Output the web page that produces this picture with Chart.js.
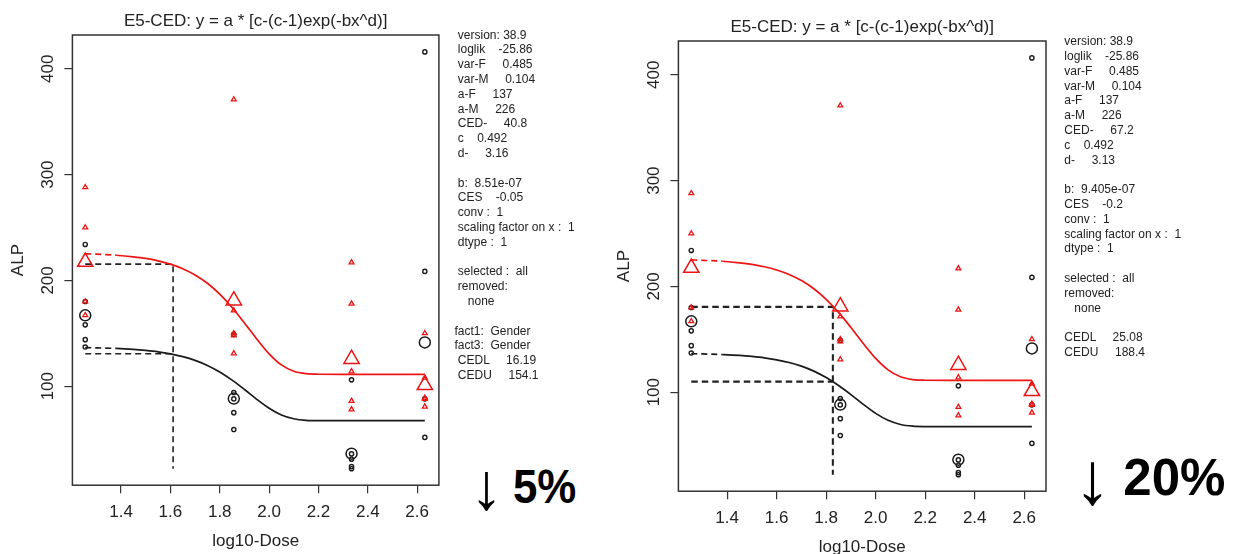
<!DOCTYPE html>
<html>
<head>
<meta charset="utf-8">
<script src="https://cdn.jsdelivr.net/npm/chart.js@4.4.1/dist/chart.umd.min.js"></script>
<style>
html, body { margin: 0; padding: 0; width: 1234px; height: 554px; overflow: hidden; background: #fff; }
.plot { position: absolute; width: 460px; height: 554px; }
.info { position: absolute; font: 12px "Liberation Sans", Arial, sans-serif; line-height: 14.8px; color: #222; white-space: pre; }
.drop { position: absolute; color: #000; font-family: "Liberation Sans", Arial, sans-serif; white-space: nowrap; line-height: 1; }
</style>
</head>
<body>
<div class="plot" style="left:0;top:0"><canvas id="chart5"></canvas></div>
<div class="plot" style="left:606px;top:6.3px"><canvas id="chart20"></canvas></div>

<div class="info" style="left:454.5px;top:27.6px"> version: 38.9
 loglik    -25.86
 var-F     0.485
 var-M     0.104
 a-F     137
 a-M     226
 CED-     40.8
 c    0.492
 d-     3.16

 b:  8.51e-07
 CES    -0.05
 conv :  1
 scaling factor on x :  1
 dtype :  1

 selected :  all
 removed:
    none

fact1:  Gender
fact3:  Gender
 CEDL     16.19
 CEDU     154.1</div>

<div class="info" style="left:1061px;top:34.3px"> version: 38.9
 loglik    -25.86
 var-F     0.485
 var-M     0.104
 a-F     137
 a-M     226
 CED-     67.2
 c    0.492
 d-     3.13

 b:  9.405e-07
 CES    -0.2
 conv :  1
 scaling factor on x :  1
 dtype :  1

 selected :  all
 removed:
    none

 CEDL     25.08
 CEDU     188.4</div>

<div class="drop" style="left:470px;top:453px;font-size:66px">↓</div>
<div class="drop" style="left:513.3px;top:462.7px;font-size:48px;font-weight:bold;transform:scaleX(0.913);transform-origin:left">5%</div>
<div class="drop" style="left:1074px;top:442px;font-size:74px">↓</div>
<div class="drop" style="left:1123.3px;top:451.8px;font-size:51px;font-weight:bold">20%</div>

<script>
// log10 dose levels
const doses = [1.255, 1.857, 2.334, 2.631];

// individual observations (red = M, black = F)
const obsM = [[288, 250, 180, 167], [371, 171.5, 150, 148, 131], [217, 178, 114, 86, 78], [150, 108, 89, 88, 80.6]];
const obsF = [[234, 180, 158, 144, 137], [149, 94, 88, 75, 59], [106, 36, 31, 24, 22], [416, 208.5, 88, 51.6]];

// group means (big markers)
const meanM = [217.5, 181, 125.7, 101];
const meanF = [167, 88.3, 36.2, 141.4];

// fitted curves
const fitX = [1.255, 1.3, 1.38, 1.45, 1.5, 1.55, 1.6, 1.65, 1.7, 1.75, 1.8, 1.85, 1.9, 1.95, 2.0, 2.05, 2.1, 2.15, 2.2, 2.3, 2.4, 2.5, 2.631];
const fitM5 = [225.1, 224.8, 223.8, 222.3, 220.8, 218.5, 215.4, 211.1, 205.2, 197.3, 187.0, 174.4, 159.8, 144.6, 130.6, 120.1, 114.1, 111.8, 111.3, 111.2, 111.2, 111.2, 111.2];
const fitF5 = [136.5, 136.2, 135.7, 134.8, 133.8, 132.5, 130.6, 128.0, 124.4, 119.6, 113.4, 105.7, 96.9, 87.6, 79.2, 72.8, 69.2, 67.7, 67.4, 67.4, 67.4, 67.4, 67.4];
const fitM20 = [225.1, 224.7, 223.8, 222.3, 220.8, 218.6, 215.5, 211.3, 205.5, 197.8, 187.8, 175.4, 161.1, 146.0, 131.9, 121.1, 114.6, 111.9, 111.3, 111.2, 111.2, 111.2, 111.2];
const fitF20 = [136.4, 136.2, 135.6, 134.8, 133.8, 132.5, 130.6, 128.1, 124.6, 119.9, 113.8, 106.3, 97.7, 88.5, 80.0, 73.4, 69.5, 67.9, 67.5, 67.4, 67.4, 67.4, 67.4];

// CED lines: [5%, 20%]
const cedX = [1.611, 1.827];
const cedM = [215.4, 180.7];
const cedF = [130.6, 110];
const cedBottom = 22;

// axes
const xTicks = [1.4, 1.6, 1.8, 2.0, 2.2, 2.4, 2.6];
const yTicks = [100, 200, 300, 400];
const xRange = [1.203, 2.688];
const yRange = [6.4, 432];

const RED = 'rgb(238,20,20)';
const BLACK = '#1a1a1a';
const FONT = '"Liberation Sans", Arial, sans-serif';

Chart.defaults.font.family = FONT;
Chart.defaults.color = '#222';

const boxPlugin = {
    id: 'plotBox',
    afterDraw(chart) {
        const { ctx, chartArea: a } = chart;
        ctx.save();
        ctx.strokeStyle = '#333';
        ctx.lineWidth = 1.5;
        ctx.strokeRect(a.left, a.top, a.right - a.left, a.bottom - a.top);
        ctx.restore();
    }
};

function toPoints(groups) {
    const out = [];
    doses.forEach((d, i) => groups[i].forEach(v => out.push({ x: d, y: v })));
    return out;
}

function crearGrafico(id, k, fitM, fitF, padRight, dashW, dash) {
    const cedLine = [
        { x: doses[0], y: cedM[k] }, { x: cedX[k], y: cedM[k] }, { x: cedX[k], y: cedBottom },
        { x: cedX[k], y: null },
        { x: doses[0], y: cedF[k] }, { x: cedX[k], y: cedF[k] }
    ];
    const dashFirst = c => (c.p1.parsed.x <= 1.381 ? [6, 4] : undefined);

    new Chart(document.getElementById(id), {
        type: 'scatter',
        data: {
            datasets: [
                {
                    data: meanM.map((v, i) => ({ x: doses[i], y: v })),
                    pointStyle: 'triangle', pointRadius: 8.8, pointBorderWidth: 1.5,
                    borderColor: RED, backgroundColor: 'rgba(0,0,0,0)'
                },
                {
                    data: meanF.map((v, i) => ({ x: doses[i], y: v })),
                    pointStyle: 'circle', pointRadius: 5.5, pointBorderWidth: 1.5,
                    borderColor: BLACK, backgroundColor: 'rgba(0,0,0,0)'
                },
                {
                    data: toPoints(obsM),
                    pointStyle: 'triangle', pointRadius: 2.8, pointBorderWidth: 1.3,
                    borderColor: RED, backgroundColor: 'rgba(0,0,0,0)'
                },
                {
                    data: toPoints(obsF),
                    pointStyle: 'circle', pointRadius: 2.1, pointBorderWidth: 1.4,
                    borderColor: BLACK, backgroundColor: 'rgba(0,0,0,0)'
                },
                {
                    data: fitX.map((x, i) => ({ x: x, y: fitM[i] })),
                    showLine: true, pointRadius: 0, borderWidth: 1.7, borderColor: RED,
                    cubicInterpolationMode: 'monotone', segment: { borderDash: dashFirst }
                },
                {
                    data: fitX.map((x, i) => ({ x: x, y: fitF[i] })),
                    showLine: true, pointRadius: 0, borderWidth: 1.7, borderColor: BLACK,
                    cubicInterpolationMode: 'monotone', segment: { borderDash: dashFirst }
                },
                {
                    data: cedLine,
                    showLine: true, spanGaps: false, pointRadius: 0,
                    borderWidth: dashW, borderColor: '#222', borderDash: dash
                }
            ]
        },
        options: {
            responsive: true,
            maintainAspectRatio: false,
            animation: false,
            events: [],
            layout: { autoPadding: false, padding: { left: 0, right: padRight, top: 0, bottom: 0 } },
            plugins: {
                legend: { display: false },
                tooltip: { enabled: false },
                title: {
                    display: true,
                    fullSize: false,
                    text: 'E5-CED: y = a * [c-(c-1)exp(-bx^d)]',
                    color: '#222',
                    font: { size: 17, weight: 'normal' },
                    padding: { top: 11, bottom: 3.6 }
                }
            },
            scales: {
                x: {
                    type: 'linear',
                    min: xRange[0],
                    max: xRange[1],
                    afterBuildTicks: s => { s.ticks = xTicks.map(v => ({ value: v })); },
                    afterFit: s => { s.height = 68.8; },
                    ticks: { font: { size: 17 }, color: '#222', padding: 9, callback: v => v.toFixed(1) },
                    grid: { drawOnChartArea: false, drawTicks: true, tickLength: 8, color: '#333', lineWidth: 1.2 },
                    border: { display: false },
                    title: { display: true, text: 'log10-Dose', font: { size: 17 }, color: '#222', padding: { top: 0, bottom: 2.8 } }
                },
                y: {
                    type: 'linear',
                    min: yRange[0],
                    max: yRange[1],
                    afterBuildTicks: s => { s.ticks = yTicks.map(v => ({ value: v })); },
                    afterFit: s => { s.width = 72.4; },
                    ticks: { font: { size: 17 }, color: '#222', padding: 2, minRotation: 90, maxRotation: 90, crossAlign: 'center', callback: v => String(v) },
                    grid: { drawOnChartArea: false, drawTicks: true, tickLength: 8, color: '#333', lineWidth: 1.2 },
                    border: { display: false },
                    title: { display: true, text: 'ALP', font: { size: 17 }, color: '#222', padding: { top: 8.6, bottom: 0 } }
                }
            }
        },
        plugins: [boxPlugin]
    });
}

crearGrafico('chart5', 0, fitM5, fitF5, 21.1, 1.6, [6, 4]);
crearGrafico('chart20', 1, fitM20, fitF20, 20, 2.1, [6.5, 4]);
</script>
</body>
</html>
